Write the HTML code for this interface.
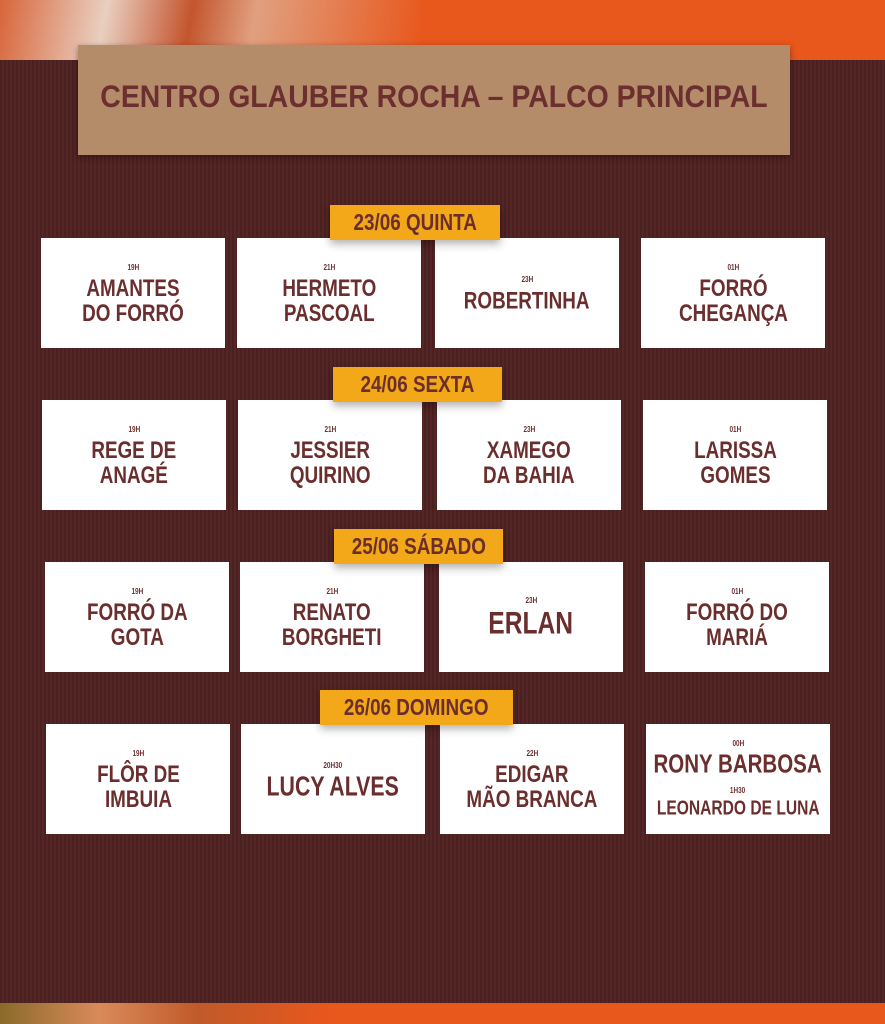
<!DOCTYPE html>
<html><head><meta charset="utf-8"><style>
body{margin:0;width:885px;height:1024px;overflow:hidden;position:relative;background:#4b2222;font-family:"Liberation Sans",sans-serif;}
.top{position:absolute;left:0;top:0;width:885px;height:60px;background:#e8571c;}
.top .f{position:absolute;left:0;top:0;width:420px;height:60px;background:linear-gradient(100deg,#d8653a 0%,#e9cfc0 25%,#c4552e 45%,#e0a080 60%,#e8571c 100%);}
.bot{position:absolute;left:0;top:1003px;width:885px;height:21px;background:#e8571c;}
.bot .f{position:absolute;left:0;top:0;width:330px;height:21px;background:linear-gradient(90deg,#8a6a2a,#d98a5a 30%,#c05a2a 60%,#e8571c);}
.mid{position:absolute;left:0;top:60px;width:885px;height:943px;background:repeating-linear-gradient(90deg,#4a2020 0 2px,#552626 2px 4px),#4b2222;}
.banner{position:absolute;left:78px;top:45px;width:712px;height:110px;background:#b48c6a;box-shadow:0 2px 6px rgba(0,0,0,.4);}
.banner span{position:absolute;left:0;right:0;top:36px;text-align:center;color:#6b2f2f;font-weight:bold;font-size:29px;white-space:nowrap;transform:scale(0.98,1.1);}
.card{position:absolute;width:184px;height:110px;background:#fff;display:flex;flex-direction:column;align-items:center;justify-content:center;color:#6b2e2e;font-weight:bold;text-align:center;white-space:nowrap;}
.card .t{font-size:8px;margin-bottom:4px;transform:scaleX(0.8);}
.card .n{font-size:23px;line-height:24px;transform:scale(0.82,1.05);}
.card .n2{font-size:19px;line-height:20px;}
.tag{position:absolute;height:35px;background:#f2a818;color:#6b2e2e;font-weight:bold;font-size:23px;line-height:35px;text-align:center;white-space:nowrap;box-shadow:0 4px 8px rgba(0,0,0,.3);}
.tag span{display:inline-block;transform:scaleX(0.82);}
</style></head><body>
<div class="top"><div class="f"></div></div>
<div class="mid"></div>
<div class="bot"><div class="f"></div></div>
<div class="banner"><span>CENTRO GLAUBER ROCHA – PALCO PRINCIPAL</span></div>

<div class="card" style="left:41px;top:238px"><div class="t">19H</div><div class="n">AMANTES<br>DO FORRÓ</div></div>
<div class="card" style="left:237px;top:238px"><div class="t">21H</div><div class="n">HERMETO<br>PASCOAL</div></div>
<div class="card" style="left:435px;top:238px"><div class="t">23H</div><div class="n">ROBERTINHA</div></div>
<div class="card" style="left:641px;top:238px"><div class="t">01H</div><div class="n">FORRÓ<br>CHEGANÇA</div></div>
<div class="tag" style="left:330px;top:205px;width:170px"><span>23/06 QUINTA</span></div>

<div class="card" style="left:42px;top:400px"><div class="t">19H</div><div class="n">REGE DE<br>ANAGÉ</div></div>
<div class="card" style="left:238px;top:400px"><div class="t">21H</div><div class="n">JESSIER<br>QUIRINO</div></div>
<div class="card" style="left:437px;top:400px"><div class="t">23H</div><div class="n">XAMEGO<br>DA BAHIA</div></div>
<div class="card" style="left:643px;top:400px"><div class="t">01H</div><div class="n">LARISSA<br>GOMES</div></div>
<div class="tag" style="left:333px;top:367px;width:169px"><span>24/06 SEXTA</span></div>

<div class="card" style="left:45px;top:562px"><div class="t">19H</div><div class="n">FORRÓ DA<br>GOTA</div></div>
<div class="card" style="left:240px;top:562px"><div class="t">21H</div><div class="n">RENATO<br>BORGHETI</div></div>
<div class="card" style="left:439px;top:562px"><div class="t">23H</div><div class="n" style="font-size:30px;line-height:30px">ERLAN</div></div>
<div class="card" style="left:645px;top:562px"><div class="t">01H</div><div class="n">FORRÓ DO<br>MARIÁ</div></div>
<div class="tag" style="left:334px;top:529px;width:169px"><span>25/06 SÁBADO</span></div>

<div class="card" style="left:46px;top:724px"><div class="t">19H</div><div class="n">FLÔR DE<br>IMBUIA</div></div>
<div class="card" style="left:241px;top:724px"><div class="t">20H30</div><div class="n" style="font-size:26px">LUCY ALVES</div></div>
<div class="card" style="left:440px;top:724px"><div class="t">22H</div><div class="n">EDIGAR<br>MÃO BRANCA</div></div>
<div class="card" style="left:646px;top:724px"><div class="t">00H</div><div class="n" style="font-size:25px">RONY BARBOSA</div><div class="t" style="margin-top:10px">1H30</div><div class="n n2">LEONARDO DE LUNA</div></div>
<div class="tag" style="left:320px;top:690px;width:193px"><span>26/06 DOMINGO</span></div>
</body></html>
